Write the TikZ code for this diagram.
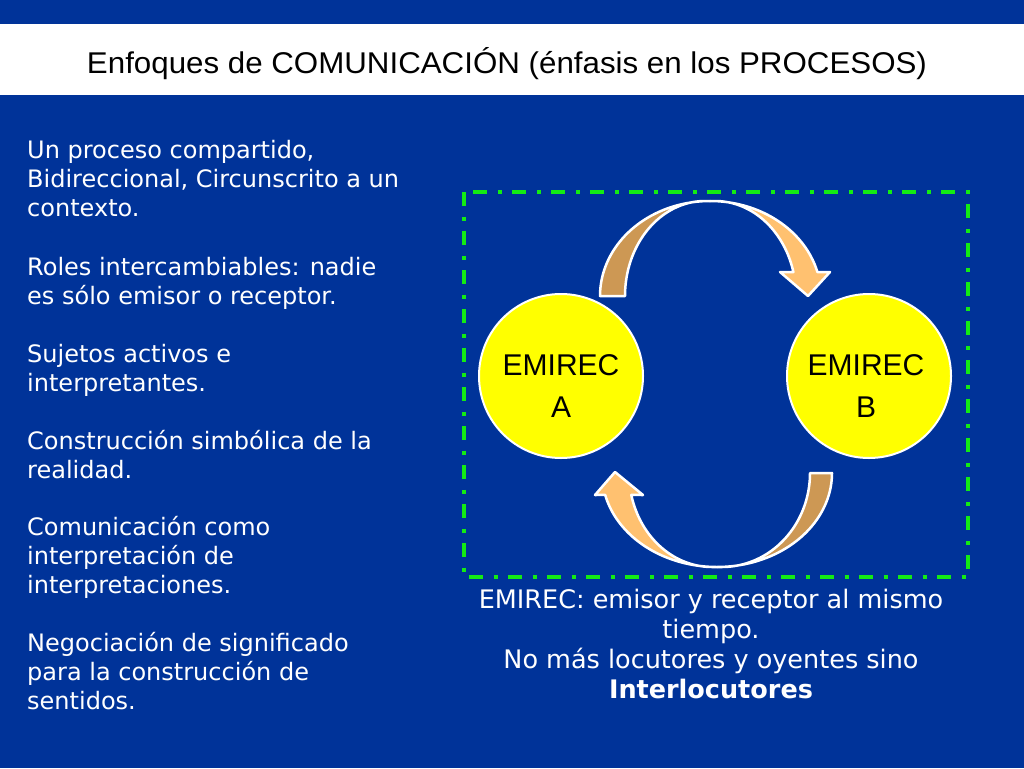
\documentclass[tikz,border=0pt]{standalone}
\usepackage{fontspec}
\usepackage{graphicx}
\setmainfont{DejaVu Sans}
\newfontfamily\arialf{Liberation Sans}
\definecolor{bgblue}{RGB}{0,51,153}
\definecolor{grn}{RGB}{20,235,20}
\definecolor{arrdark}{RGB}{205,152,84}
\definecolor{arrlight}{RGB}{255,193,112}
\definecolor{ylw}{RGB}{255,255,0}
\tikzset{
  para/.style={anchor=north west, inner sep=0pt, align=left, text=white, font=\fontsize{24}{29}\selectfont},
  emirec/.style={circle, fill=ylw, draw=white, line width=2pt, minimum size=164pt, inner sep=0pt},
  elabel/.style={anchor=north, inner sep=0pt, align=center, text=black, font=\arialf\fontsize{30}{42}\selectfont},
  blockarrow/.style={draw=white, line width=2.5pt, line join=round},
}
\newcommand{\tstrut}{\rule{0pt}{21pt}}
\begin{document}
\begin{tikzpicture}[x=1pt,y=-1pt]
\useasboundingbox (0,0) rectangle (1024,768);
\fill[bgblue] (0,0) rectangle (1024,768);
\fill[white] (0,24) rectangle (1024,95);
\node[anchor=base, inner sep=0pt, text=black] (title) at (507,73)
  {\resizebox{840pt}{\height}{\arialf\fontsize{30}{36}\selectfont Enfoques de COMUNICACIÓN (énfasis en los PROCESOS)}};

% left text
\node[para] (p1) at (27,137) {\tstrut Un proceso compartido,\\Bidireccional, Circunscrito a un\\contexto.};
\node[para] (p2) at (27,254) {\tstrut Roles intercambiables: nadie\\es sólo emisor o receptor.};
\node[para] (p3) at (27,341) {\tstrut Sujetos activos e\\interpretantes.};
\node[para] (p4) at (27,428) {\tstrut Construcción simbólica de la\\realidad.};
\node[para] (p5) at (27,514) {\tstrut Comunicación como\\interpretación de\\interpretaciones.};
\node[para] (p6) at (27,630) {\tstrut Negociación de significado\\para la construcción de\\sentidos.};

% green frame
\draw[grn, line width=4pt, dash pattern=on 14pt off 10.5pt on 4pt off 10.5pt] (464,192) rectangle (968,577);

% circles
\node[emirec] (A) at (561,376) {};
\node[emirec] (B) at (869,376) {};
\node[elabel] (Alab) at (561,354) {\tstrut EMIREC\\A};
\node[elabel] (Blab) at (866,354) {\tstrut EMIREC\\B};

% top curved arrow
\draw[blockarrow, fill=arrdark]
  plot[domain=180:270, samples=40, variable=\t] ({710+110*cos(\t)},{296+95*sin(\t)})
  -- plot[domain=270:180, samples=40, variable=\t] ({705+80*cos(\t)},{296+95*sin(\t)}) -- cycle;
\draw[blockarrow, fill=arrlight]
  plot[domain=270:345.4, samples=40, variable=\t] ({710+111*cos(\t)},{296+95*sin(\t)})
  -- (830,272) -- (808,296) -- (780,272)
  -- plot[domain=345.4:270, samples=40, variable=\t] ({715+81*cos(\t)},{296+95*sin(\t)}) -- cycle;

% bottom curved arrow
\draw[blockarrow, fill=arrdark]
  plot[domain=0:90, samples=40, variable=\t] ({717+115*cos(\t)},{473+94*sin(\t)})
  -- plot[domain=90:0, samples=40, variable=\t] ({722+88*cos(\t)},{473+94*sin(\t)}) -- cycle;
\draw[blockarrow, fill=arrlight]
  plot[domain=90:166.5, samples=40, variable=\t] ({717+115*cos(\t)},{473+94*sin(\t)})
  -- (595,495) -- (615,472) -- (643,495)
  -- plot[domain=166.5:90, samples=40, variable=\t] ({712+83*cos(\t)},{473+94*sin(\t)}) -- cycle;

% caption
\node[anchor=north, inner sep=0pt, align=center, text=white, font=\fontsize{25.5}{30}\selectfont] (cap) at (711,587)
  {\tstrut EMIREC: emisor y receptor al mismo\\tiempo.\\No más locutores y oyentes sino\\\textbf{Interlocutores}};
\end{tikzpicture}
\end{document}
